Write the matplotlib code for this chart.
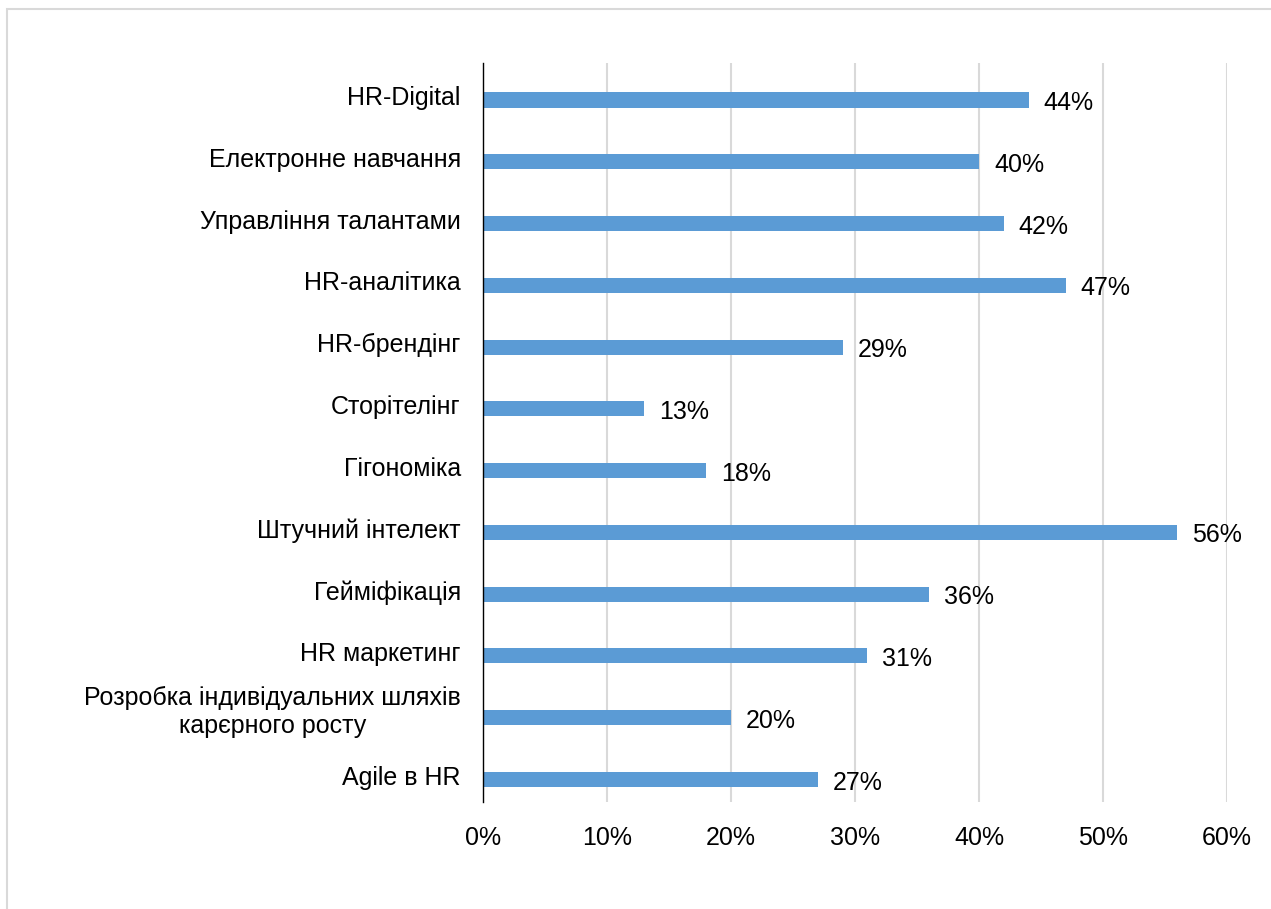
import matplotlib.pyplot as plt
from matplotlib.patches import Rectangle
from matplotlib.ticker import PercentFormatter

# categories top to bottom
categories = [
    'HR-Digital',
    'Електронне навчання',
    'Управління талантами',
    'HR-аналітика',
    'HR-брендінг',
    'Сторітелінг',
    'Гігономіка',
    'Штучний інтелект',
    'Гейміфікація',
    'HR маркетинг',
    'Розробка індивідуальних шляхів\nкарєрного росту',
    'Agile в HR',
]
values = [44, 40, 42, 47, 29, 13, 18, 56, 36, 31, 20, 27]
xticks = [0, 10, 20, 30, 40, 50, 60]

plt.rcParams['font.family'] = ['Liberation Sans', 'DejaVu Sans']

W, H = 1271, 909
fig = plt.figure(figsize=(W / 100, H / 100), dpi=100)

# chart area border (clipped at right/bottom like the source)
fig.patches.append(Rectangle((7 / W, -0.05), 1.2, 1 - 9 / H + 0.05,
                             transform=fig.transFigure, fill=False,
                             edgecolor='#d9d9d9', linewidth=1.5))

ax = fig.add_axes([483 / W, 1 - 802 / H, (1227 - 483) / W, (802 - 63) / H])

pos = list(range(len(categories)))
ax.barh(pos, values, height=0.245, color='#5b9bd5', zorder=3)

for p, v in zip(pos, values):
    ax.text(v + 1.2, p + 0.05, f'{v}%', va='center', ha='left', fontsize=18,
            color='#000000', zorder=4)

ax.set_xlim(0, 60)
ax.set_ylim(11.365, -0.599)
ax.set_xticks(xticks)
ax.xaxis.set_major_formatter(PercentFormatter(decimals=0))
# category labels sit a little above the bars; the two-line one a bit more
ax.set_yticks([p - (0.17 if '\n' in c else 0.07) for p, c in zip(pos, categories)])
ax.set_yticklabels(categories)
for lbl in ax.get_yticklabels():
    lbl.set_multialignment('center')
    if '\n' in lbl.get_text():
        lbl.set_linespacing(1.2)

ax.tick_params(axis='both', length=0, labelsize=18, colors='#000000')
ax.tick_params(axis='x', pad=17)
ax.tick_params(axis='y', pad=16)

ax.grid(axis='x', color='#d9d9d9', linewidth=1.5, zorder=0)
for s in ['top', 'right', 'bottom']:
    ax.spines[s].set_visible(False)
ax.spines['left'].set_color('#000000')
ax.spines['left'].set_linewidth(1.0)
ax.spines['left'].set_zorder(5)

fig.savefig('out.png', dpi=100)
